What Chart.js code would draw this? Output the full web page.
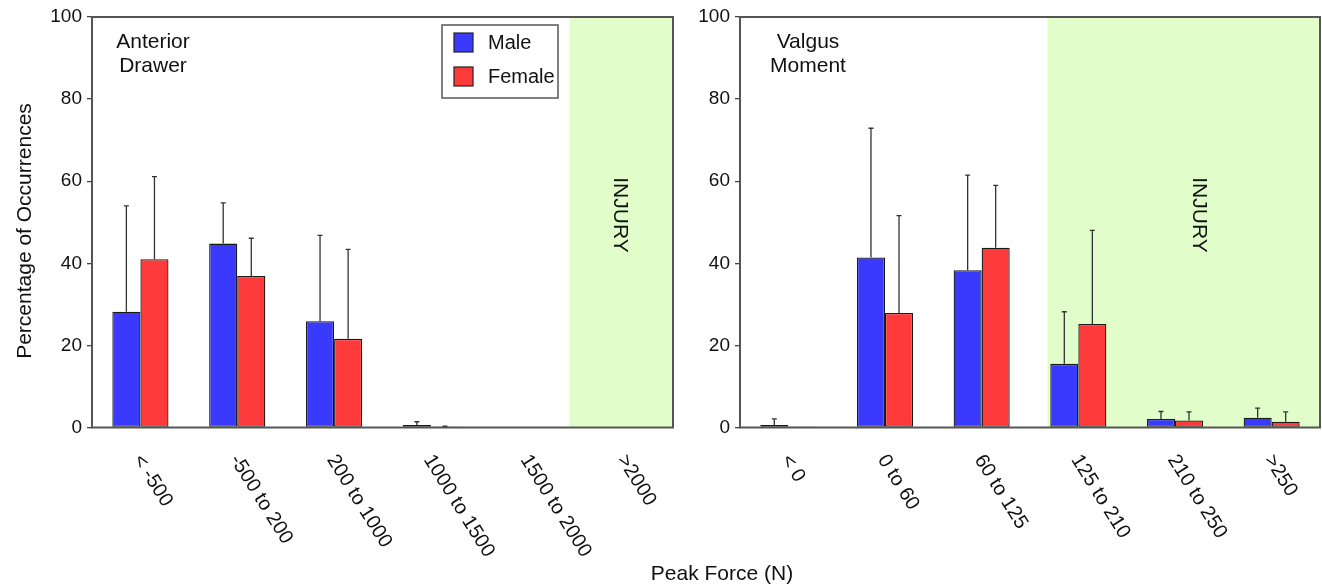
<!DOCTYPE html>
<html>
<head>
<meta charset="utf-8">
<script src="https://cdn.jsdelivr.net/npm/chart.js@4.4.1/dist/chart.umd.min.js"></script>
<style>
  body { margin: 0; background: #fff; width: 1322px; height: 588px; position: relative; overflow: hidden; }
  .box { position: absolute; top: 0; height: 588px; }
  #leftBox { left: 0; width: 690px; }
  #rightBox { left: 690px; width: 632px; }
  #xTitle { position: absolute; left: 0; width: 1444px; top: 561px; text-align: center;
            font: 21px "Liberation Sans", Arial, sans-serif; color: #111; }
</style>
</head>
<body>
<div class="box" id="leftBox"><canvas id="leftChart"></canvas></div>
<div class="box" id="rightBox"><canvas id="rightChart"></canvas></div>
<div id="xTitle">Peak Force (N)</div>
<script>
// values (percent of occurrences, mean and top of error bar)
const leftCategories = ['< -500', '-500 to 200', '200 to 1000', '1000 to 1500', '1500 to 2000', '>2000'];
const leftMale = [28.2, 44.8, 25.9, 0.6, null, null];
const leftMaleErr = [54.0, 54.7, 46.8, 1.4, null, null];
const leftFemale = [41.0, 36.9, 21.6, 0.15, null, null];
const leftFemaleErr = [61.1, 46.1, 43.4, 0.3, null, null];

const rightCategories = ['< 0', '0 to 60', '60 to 125', '125 to 210', '210 to 250', '>250'];
const rightMale = [0.6, 41.4, 38.3, 15.5, 2.1, 2.4];
const rightMaleErr = [2.1, 72.9, 61.5, 28.2, 3.9, 4.7];
const rightFemale = [0.1, 27.9, 43.8, 25.2, 1.7, 1.4];
const rightFemaleErr = [null, 51.6, 59.0, 48.0, 3.8, 3.8];

const yTicks = [0, 20, 40, 60, 80, 100];

const BLUE = '#3a3aff';
const RED = '#ff3a3a';
const GREEN = '#e0fdca';
const FONT = '"Liberation Sans", Arial, sans-serif';

const decorPlugin = {
    id: 'decor',
    beforeDatasetsDraw(chart, args, opts) {
        const ctx = chart.ctx;
        const area = chart.chartArea;
        const x = chart.scales.x;
        const x0 = x.getPixelForValue(opts.injuryFrom);
        ctx.save();
        ctx.fillStyle = GREEN;
        ctx.fillRect(x0, area.top, area.right - x0, area.bottom - area.top);
        ctx.restore();
    },
    afterDatasetsDraw(chart) {
        const ctx = chart.ctx;
        const y = chart.scales.y;
        ctx.save();
        ctx.strokeStyle = '#333';
        ctx.lineWidth = 1.3;
        chart.data.datasets.forEach((ds, i) => {
            const meta = chart.getDatasetMeta(i);
            ds.errTop.forEach((top, j) => {
                if (top == null || ds.data[j] == null) return;
                const bar = meta.data[j];
                const yt = y.getPixelForValue(top);
                ctx.beginPath();
                ctx.moveTo(bar.x, bar.y);
                ctx.lineTo(bar.x, yt);
                ctx.moveTo(bar.x - 2.5, yt);
                ctx.lineTo(bar.x + 2.5, yt);
                ctx.stroke();
            });
        });
        ctx.restore();
    },
    afterDraw(chart, args, opts) {
        const ctx = chart.ctx;
        const area = chart.chartArea;
        const x = chart.scales.x;
        ctx.save();

        // frame
        ctx.strokeStyle = '#555';
        ctx.lineWidth = 2;
        ctx.strokeRect(area.left, area.top, area.right - area.left, area.bottom - area.top);

        // rotated category labels
        ctx.fillStyle = '#111';
        ctx.font = '20px ' + FONT;
        ctx.textAlign = 'left';
        ctx.textBaseline = 'middle';
        chart.data.labels.forEach((lab, i) => {
            ctx.save();
            ctx.translate(x.getPixelForTick(i) - 3, area.bottom + 29);
            ctx.rotate(58 * Math.PI / 180);
            ctx.fillText(lab, 0, 0);
            ctx.restore();
        });

        // panel name
        ctx.font = '21px ' + FONT;
        ctx.textAlign = 'center';
        opts.name.forEach((line, i) => {
            ctx.fillText(line, opts.nameX, 42 + i * 24);
        });

        // INJURY zone text
        ctx.save();
        ctx.font = '21px ' + FONT;
        ctx.translate(opts.injuryX, 215);
        ctx.rotate(Math.PI / 2);
        ctx.fillText('INJURY', 0, 0);
        ctx.restore();

        // y title
        if (opts.yTitle) {
            ctx.save();
            ctx.font = '21px ' + FONT;
            ctx.translate(25, 231);
            ctx.rotate(-Math.PI / 2);
            ctx.fillText(opts.yTitle, 0, 0);
            ctx.restore();
        }

        // legend
        if (opts.legend) {
            const lg = opts.legend;
            ctx.strokeStyle = '#555';
            ctx.lineWidth = 1.5;
            ctx.fillStyle = '#fff';
            ctx.fillRect(lg.x, lg.y, lg.w, lg.h);
            ctx.strokeRect(lg.x, lg.y, lg.w, lg.h);
            ctx.font = '20px ' + FONT;
            ctx.textAlign = 'left';
            chart.data.datasets.forEach((ds, i) => {
                const sy = lg.y + 8 + i * 34;
                ctx.fillStyle = ds.backgroundColor;
                ctx.fillRect(lg.x + 12, sy, 19, 19);
                ctx.strokeStyle = '#222';
                ctx.lineWidth = 1.2;
                ctx.strokeRect(lg.x + 12, sy, 19, 19);
                ctx.fillStyle = '#111';
                ctx.fillText(ds.label, lg.x + 46, sy + 10);
            });
        }
        ctx.restore();
    }
};

function makeChart(id, labels, male, maleErr, female, femaleErr, yWidth, padRight, decor) {
    return new Chart(document.getElementById(id), {
        type: 'bar',
        data: {
            labels: labels,
            datasets: [
                { label: 'Male', data: male, errTop: maleErr, backgroundColor: BLUE },
                { label: 'Female', data: female, errTop: femaleErr, backgroundColor: RED }
            ]
        },
        options: {
            responsive: true,
            maintainAspectRatio: false,
            animation: false,
            events: [],
            layout: { padding: { left: 0, top: 17, right: padRight, bottom: 0 } },
            datasets: {
                bar: {
                    categoryPercentage: 0.58,
                    barPercentage: 1.0,
                    borderColor: '#1a1a1a',
                    borderWidth: 1.3,
                    borderSkipped: false
                }
            },
            plugins: {
                legend: { display: false },
                tooltip: { enabled: false },
                decor: decor
            },
            scales: {
                x: {
                    grid: { display: false },
                    border: { display: false },
                    ticks: { display: false },
                    afterFit: s => { s.height = 160.5; }
                },
                y: {
                    min: 0,
                    max: 100,
                    afterBuildTicks: s => { s.ticks = yTicks.map(v => ({ value: v })); },
                    afterFit: s => { s.width = yWidth; },
                    border: { display: false },
                    grid: { drawOnChartArea: false, drawTicks: true, tickLength: 5, color: '#444', lineWidth: 1.3 },
                    ticks: { color: '#111', padding: 5, font: { family: FONT, size: 19 } }
                }
            }
        },
        plugins: [decorPlugin]
    });
}

makeChart('leftChart', leftCategories, leftMale, leftMaleErr, leftFemale, leftFemaleErr, 92, 17, {
    injuryFrom: 4.43,
    injuryX: 620,
    name: ['Anterior', 'Drawer'],
    nameX: 153,
    yTitle: 'Percentage of Occurrences',
    legend: { x: 442, y: 25, w: 116, h: 73 }
});

makeChart('rightChart', rightCategories, rightMale, rightMaleErr, rightFemale, rightFemaleErr, 50, 2, {
    injuryFrom: 2.68,
    injuryX: 509,
    name: ['Valgus', 'Moment'],
    nameX: 118,
    yTitle: null,
    legend: null
});
</script>
</body>
</html>
